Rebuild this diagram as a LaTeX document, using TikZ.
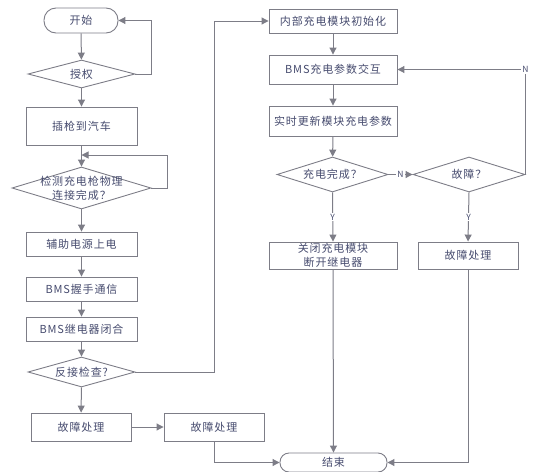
\documentclass[tikz,border=0pt]{standalone}
\usepackage{fontspec}
\setmainfont[LetterSpace=8]{Noto Sans CJK SC}
\setsansfont{Noto Sans CJK SC}
\usetikzlibrary{shapes.geometric,arrows.meta}
\definecolor{ln}{RGB}{125,125,135}
\definecolor{tx}{RGB}{70,75,110}
\tikzset{
 box/.style={draw=ln, line width=0.9pt, rectangle, inner sep=0pt, text=tx, align=center, font=\fontsize{11}{14}\selectfont},
 term/.style={box, rounded corners=#1},
 dia/.style={draw=ln, line width=0.9pt, diamond, inner sep=0pt},
 txt/.style={text=tx, align=center, inner sep=0pt, font=\fontsize{11}{14}\selectfont},
 arr/.style={draw=ln, line width=1pt, -{Triangle[length=7pt,width=7pt]}},
 lab/.style={text=tx, font=\sffamily\fontsize{8.5}{9}\selectfont, fill=white, inner sep=1pt}
}
\begin{document}
\begin{tikzpicture}[x=1pt,y=-1pt]
\useasboundingbox (0,0) rectangle (543,471);
% left column
\node[term=12pt, minimum width=74pt, minimum height=25pt] (start) at (81,20.5) {开始};
\node[dia, minimum width=107pt, minimum height=28pt] (auth) at (81.5,74) {};
\node[txt] (authT) at (auth) {授权};
\node[box, minimum width=111pt, minimum height=38pt] (plug) at (81.5,126) {插枪到汽车};
\node[dia, minimum width=139pt, minimum height=42pt] (det) at (81.5,188) {};
\node[txt] (detT) at (det) {检测充电枪物理\\连接完成？};
\coordinate (detin) at (81.5,155);
\node[box, minimum width=111pt, minimum height=24pt] (aux) at (81.5,244) {辅助电源上电};
\node[box, minimum width=111pt, minimum height=24pt] (hand) at (81.5,289) {BMS握手通信};
\node[box, minimum width=111pt, minimum height=24pt] (relay) at (81.5,329) {BMS继电器闭合};
\node[dia, minimum width=107pt, minimum height=30pt] (rev) at (81.5,372) {};
\node[txt] (revT) at (rev) {反接检查?};
\node[box, minimum width=100pt, minimum height=28pt] (f1) at (81,427) {故障处理};
\node[box, minimum width=100pt, minimum height=28pt] (f2) at (214,427) {故障处理};
\node[term=9pt, minimum width=107pt, minimum height=19pt] (end) at (333.5,462.5) {结束};
% right column
\node[box, minimum width=128pt, minimum height=24pt] (init) at (333,21) {内部充电模块初始化};
\node[box, minimum width=128pt, minimum height=29pt] (bms2) at (333,69.5) {BMS充电参数交互};
\node[box, minimum width=128pt, minimum height=30pt] (upd) at (333,121) {实时更新模块充电参数};
\node[dia, minimum width=111pt, minimum height=35pt] (done) at (332.5,174.5) {};
\node[txt] (doneT) at (done) {充电完成？};
\node[dia, minimum width=112pt, minimum height=35pt] (fault) at (469,174.5) {};
\node[txt] (faultT) at (fault) {故障？};
\node[box, minimum width=128pt, minimum height=27pt] (close) at (333,255.5) {关闭充电模块\\断开继电器};
\node[box, minimum width=100pt, minimum height=27pt] (f3) at (468,255.5) {故障处理};
% connectors
\draw[arr] (start) -- (auth);
\draw[arr] (auth.east) -- ++(16,0) |- (start.east);
\draw[arr] (auth) -- (plug);
\draw[arr] (plug) -- (det);
\draw[arr] (det.east) -- ++(16,0) |- (detin);
\draw[arr] (det) -- (aux);
\draw[arr] (aux) -- (hand);
\draw[arr] (hand) -- (relay);
\draw[arr] (relay) -- (rev);
\draw[arr] (rev) -- (f1);
\draw[arr] (f1) -- (f2);
\draw[arr] (rev.east) -- (rev.east -| f2.north) |- (init.west);
\draw[arr] (f2.south) |- (end.west);
\draw[arr] (init) -- (bms2);
\draw[arr] (bms2) -- (upd);
\draw[arr] (upd) -- (done);
\draw[arr] (done.east) -- node[lab] (nlab1) {N} (fault.west);
\draw[arr] (fault.east) |- node[lab, pos=0.5] (nlab2) {N} (bms2.east);
\draw[arr] (done.south) -- node[lab] (ylab1) {Y} (close.north);
\draw[arr] (fault.south) -- node[lab] (ylab2) {Y} (f3.north);
\draw[arr] (close.south) -- (end.north);
\draw[arr] (f3.south) |- (end.east);
\end{tikzpicture}
\end{document}
